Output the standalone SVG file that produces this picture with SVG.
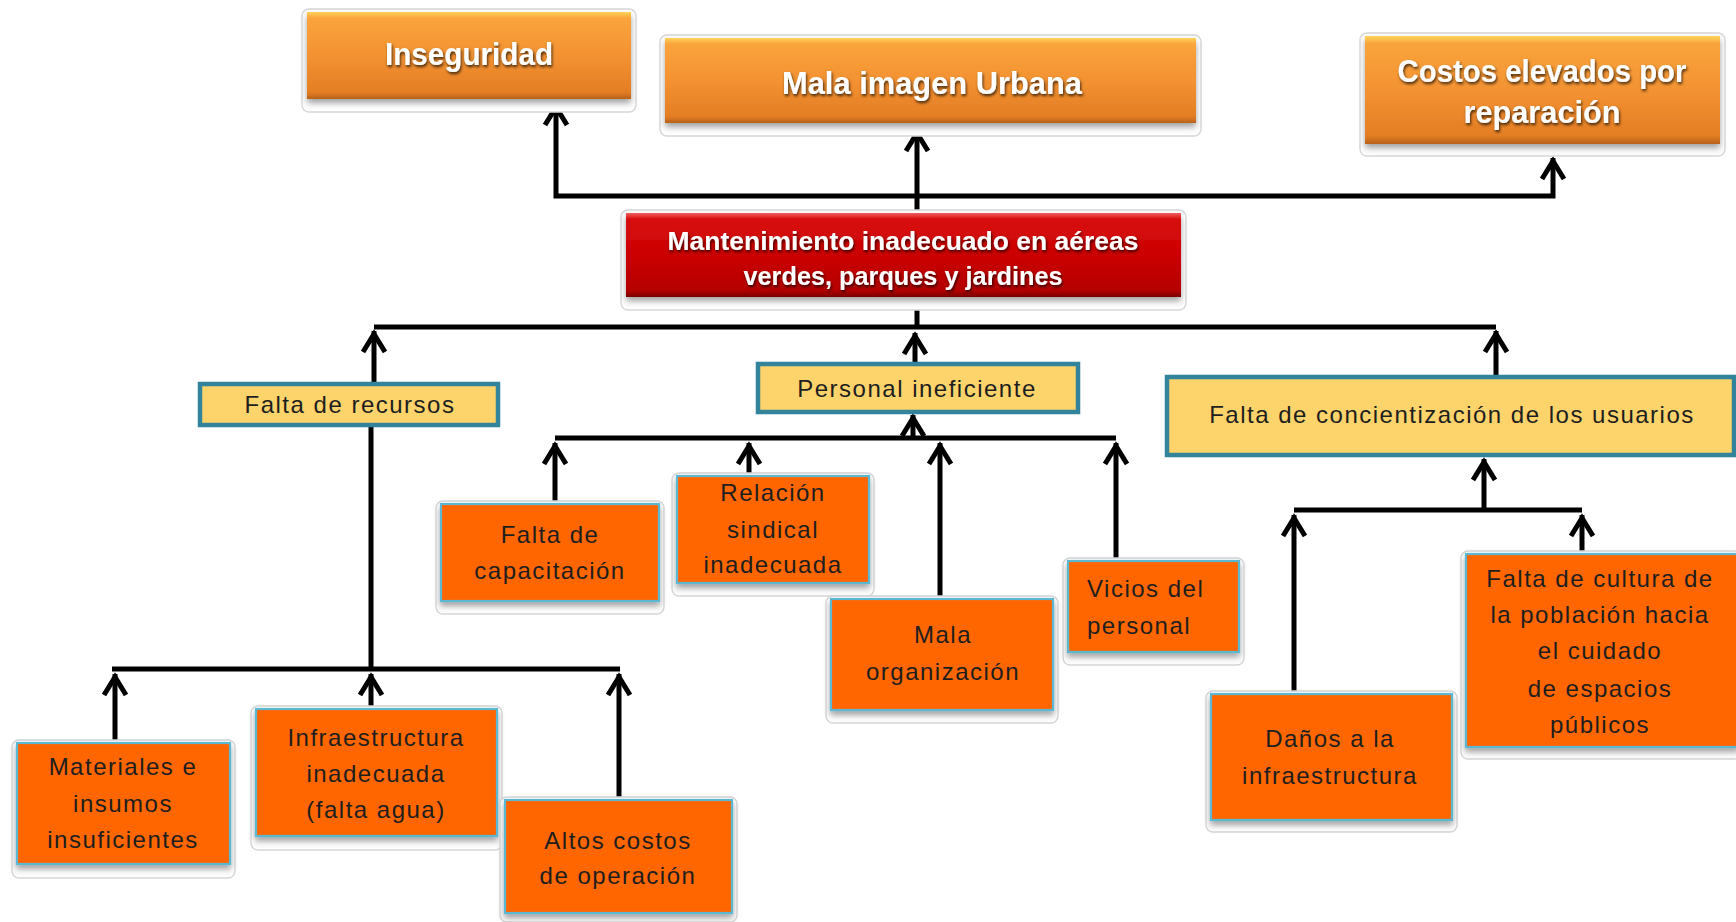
<svg xmlns="http://www.w3.org/2000/svg" width="1736" height="922" viewBox="0 0 1736 922">
<style>
.halo{fill:#fff;stroke:#d6d6d6;stroke-width:1.3}
.top{fill:url(#gOr);filter:url(#sh)}
.red{fill:url(#gRed);filter:url(#sh)}
.ch{fill:#FF6600;stroke:#5BB8D2;stroke-width:2.2;filter:url(#sh)}
.yb{fill:#FDD36C;stroke:#31849B;stroke-width:4.5}
.t{font-family:"Liberation Sans",Arial,sans-serif;font-size:24px;fill:#1e1e1e;letter-spacing:1.5px;text-anchor:middle}
.tl{text-anchor:start}
.w{font-family:"Liberation Sans",Arial,sans-serif;font-weight:bold;fill:#fff;text-anchor:middle;filter:url(#tsh)}
.ln{fill:none;stroke:#000;stroke-width:5;stroke-linejoin:miter}
.ar{marker-end:url(#ah)}
</style>
<defs>
<linearGradient id="gOr" x1="0" y1="0" x2="0" y2="1">
<stop offset="0" stop-color="#FFD45A"/>
<stop offset="0.07" stop-color="#FAA43C"/>
<stop offset="0.5" stop-color="#F39232"/>
<stop offset="0.92" stop-color="#E47E24"/>
<stop offset="1" stop-color="#B9621C"/>
</linearGradient>
<linearGradient id="gRed" x1="0" y1="0" x2="0" y2="1">
<stop offset="0" stop-color="#F06060"/>
<stop offset="0.07" stop-color="#D81010"/>
<stop offset="0.5" stop-color="#CC0000"/>
<stop offset="0.92" stop-color="#B40000"/>
<stop offset="1" stop-color="#7A0000"/>
</linearGradient>
<filter id="sh" x="-10%" y="-10%" width="120%" height="140%">
<feDropShadow dx="0" dy="4" stdDeviation="3" flood-color="#404040" flood-opacity="0.5"/>
</filter>
<filter id="tsh" x="-10%" y="-30%" width="120%" height="160%">
<feDropShadow dx="1" dy="2" stdDeviation="1.5" flood-color="#000" flood-opacity="0.75"/>
</filter>
<marker id="ah" viewBox="-24 -14 30 28" refX="0" refY="0" markerWidth="30" markerHeight="28" markerUnits="userSpaceOnUse" orient="auto-start-reverse" overflow="visible">
<path d="M-21,-11 L-3,0 L-21,11" fill="none" stroke="#000" stroke-width="5" stroke-linejoin="miter"/>
</marker>
</defs>

<g id="connectors">
<path class="ln ar" d="M917,213 L917,130"/>
<path class="ln" d="M1553,158 L1553,196 L556,196 L556,104" marker-start="url(#ah)" marker-end="url(#ah)"/>
<path class="ln" d="M917,297 L917,327"/>
<path class="ln" d="M374,327 L1496,327"/>
<path class="ln ar" d="M374,384 L374,331"/>
<path class="ln ar" d="M915,364 L915,333"/>
<path class="ln ar" d="M1496,377 L1496,331"/>
<path class="ln" d="M371,425 L371,669"/>
<path class="ln" d="M112,669 L620,669"/>
<path class="ln ar" d="M115,743 L115,674"/>
<path class="ln ar" d="M371,709 L371,674"/>
<path class="ln ar" d="M619,800 L619,674"/>
<path class="ln" d="M555,438 L1116,438"/>
<path class="ln ar" d="M913,438 L913,415"/>
<path class="ln ar" d="M555,504 L555,443"/>
<path class="ln ar" d="M749,476 L749,443"/>
<path class="ln ar" d="M940,599 L940,443"/>
<path class="ln ar" d="M1116,561 L1116,443"/>
<path class="ln" d="M1294,510 L1582,510"/>
<path class="ln ar" d="M1484,510 L1484,459"/>
<path class="ln ar" d="M1294,694 L1294,515"/>
<path class="ln ar" d="M1582,554 L1582,515"/>
</g>

<g id="inseguridad">
<rect class="halo" x="302" y="9" width="334" height="103" rx="7"/>
<rect class="top" x="307" y="12" width="324" height="87"/>
<text class="w" x="469" y="65" font-size="32" textLength="168" lengthAdjust="spacingAndGlyphs">Inseguridad</text>
</g>

<g id="mala-imagen">
<rect class="halo" x="660" y="35" width="541" height="101" rx="7"/>
<rect class="top" x="665" y="38" width="531" height="85"/>
<text class="w" x="932" y="94" font-size="32" textLength="300" lengthAdjust="spacingAndGlyphs">Mala imagen Urbana</text>
</g>

<g id="costos">
<rect class="halo" x="1360" y="33" width="365" height="123" rx="7"/>
<rect class="top" x="1365" y="36" width="355" height="108"/>
<text class="w" x="1542" y="82" font-size="32" textLength="289" lengthAdjust="spacingAndGlyphs">Costos elevados por</text>
<text class="w" x="1542" y="123" font-size="32" textLength="157" lengthAdjust="spacingAndGlyphs">reparación</text>
</g>

<g id="problema-central">
<rect class="halo" x="621" y="210" width="565" height="100" rx="7"/>
<rect class="red" x="626" y="213" width="555" height="84"/>
<text class="w" x="903" y="250" font-size="26" textLength="471" lengthAdjust="spacingAndGlyphs">Mantenimiento inadecuado en aéreas</text>
<text class="w" x="903" y="285" font-size="26" textLength="319" lengthAdjust="spacingAndGlyphs">verdes, parques y jardines</text>
</g>

<g id="falta-recursos">
<rect class="yb" x="200" y="384" width="298" height="41"/>
<text class="t" x="350" y="413" letter-spacing="1.4">Falta de recursos</text>
</g>

<g id="personal-ineficiente">
<rect class="yb" x="758" y="364" width="320" height="48"/>
<text class="t" x="917" y="397">Personal ineficiente</text>
</g>

<g id="falta-concientizacion">
<rect class="yb" x="1167" y="377" width="567" height="78"/>
<text class="t" x="1452" y="423">Falta de concientización de los usuarios</text>
</g>

<g id="materiales">
<rect class="halo" x="12" y="740" width="223" height="138" rx="7"/>
<rect class="ch" x="17" y="743" width="213" height="121"/>
<text class="t" x="123" y="775">Materiales e</text>
<text class="t" x="123" y="812">insumos</text>
<text class="t" x="123" y="848">insuficientes</text>
</g>

<g id="infraestructura">
<rect class="halo" x="251" y="706" width="251" height="144" rx="7"/>
<rect class="ch" x="256" y="709" width="241" height="127"/>
<text class="t" x="376" y="746">Infraestructura</text>
<text class="t" x="376" y="782">inadecuada</text>
<text class="t" x="376" y="818">(falta agua)</text>
</g>

<g id="altos-costos">
<rect class="halo" x="500" y="797" width="237" height="125" rx="7"/>
<rect class="ch" x="505" y="800" width="227" height="113"/>
<text class="t" x="618" y="849">Altos costos</text>
<text class="t" x="618" y="884">de operación</text>
</g>

<g id="capacitacion">
<rect class="halo" x="436" y="501" width="228" height="113" rx="7"/>
<rect class="ch" x="441" y="504" width="218" height="97"/>
<text class="t" x="550" y="543">Falta de</text>
<text class="t" x="550" y="579">capacitación</text>
</g>

<g id="relacion-sindical">
<rect class="halo" x="672" y="473" width="202" height="123" rx="7"/>
<rect class="ch" x="677" y="476" width="192" height="107"/>
<text class="t" x="773" y="501">Relación</text>
<text class="t" x="773" y="538">sindical</text>
<text class="t" x="773" y="573">inadecuada</text>
</g>

<g id="mala-organizacion">
<rect class="halo" x="826" y="596" width="232" height="127" rx="7"/>
<rect class="ch" x="831" y="599" width="222" height="111"/>
<text class="t" x="943" y="643">Mala</text>
<text class="t" x="943" y="680">organización</text>
</g>

<g id="vicios">
<rect class="halo" x="1063" y="558" width="181" height="107" rx="7"/>
<rect class="ch" x="1068" y="561" width="171" height="91"/>
<text class="t tl" x="1087" y="597">Vicios del</text>
<text class="t tl" x="1087" y="634">personal</text>
</g>

<g id="danos">
<rect class="halo" x="1206" y="691" width="251" height="141" rx="7"/>
<rect class="ch" x="1211" y="694" width="241" height="126"/>
<text class="t" x="1330" y="747">Daños a la</text>
<text class="t" x="1330" y="784">infraestructura</text>
</g>

<g id="falta-cultura">
<rect class="halo" x="1461" y="551" width="280" height="208" rx="7"/>
<rect class="ch" x="1466" y="554" width="272" height="193"/>
<text class="t" x="1600" y="587">Falta de cultura de</text>
<text class="t" x="1600" y="623">la población hacia</text>
<text class="t" x="1600" y="659">el cuidado</text>
<text class="t" x="1600" y="697">de espacios</text>
<text class="t" x="1600" y="733">públicos</text>
</g>
</svg>
